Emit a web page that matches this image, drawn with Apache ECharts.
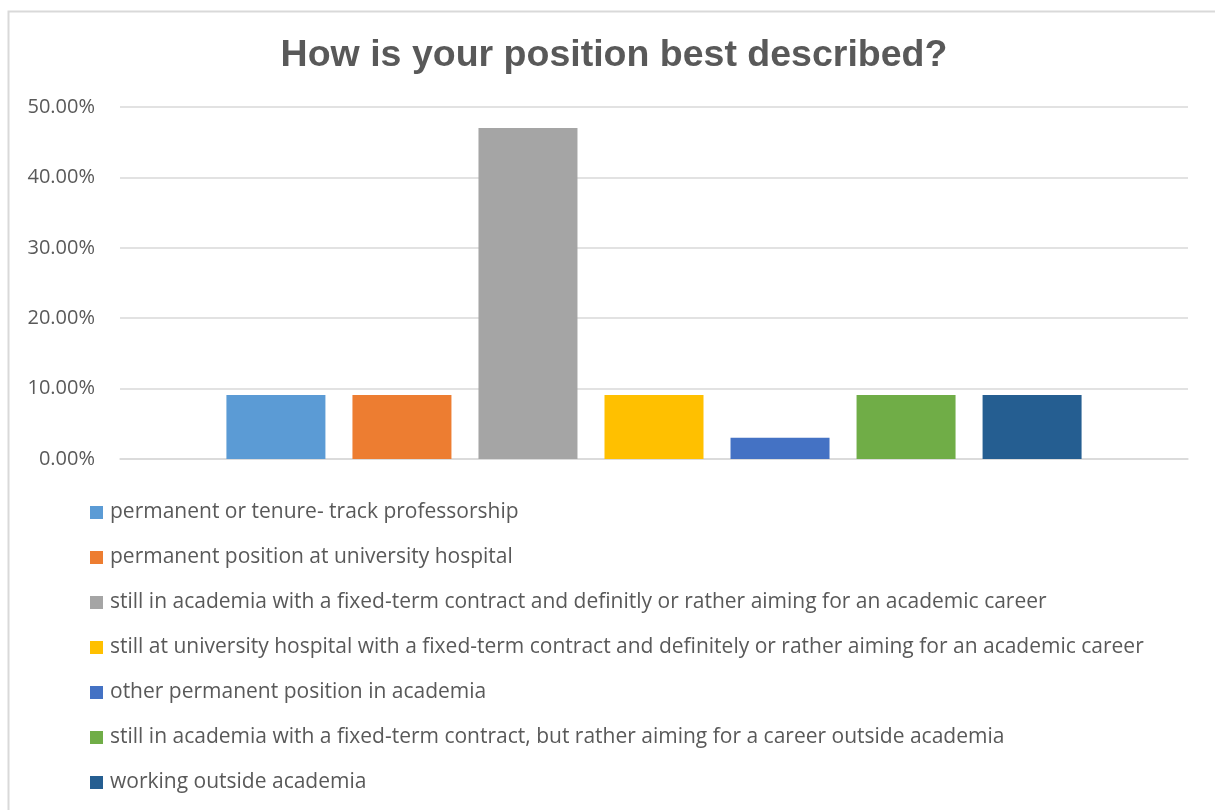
<!DOCTYPE html>
<html>
<head>
<meta charset="utf-8">
<script src="https://cdn.jsdelivr.net/npm/echarts@6/dist/echarts.min.js"></script>
<style>
html,body{margin:0;padding:0;background:#fff;}
#c{width:1215px;height:810px;}
</style>
</head>
<body>
<div id="c"></div>
<script>
const titleText = 'How is your position best described?';
const categories = [''];
const seriesNames = [
  'permanent or tenure- track professorship',
  'permanent position at university hospital',
  'still in academia with a fixed-term contract and definitly or rather aiming for an academic career',
  'still at university hospital with a fixed-term contract and definitely or rather aiming for an academic career',
  'other permanent position in academia',
  'still in academia with a fixed-term contract, but rather aiming for a career outside academia',
  'working outside academia'
];
const seriesValues = [9.09, 9.09, 47.0, 9.09, 3.03, 9.09, 9.09];
const seriesColors = ['#5b9bd5', '#ed7d31', '#a5a5a5', '#ffc000', '#4472c4', '#70ad47', '#255e91'];
const yTicks = [0, 10, 20, 30, 40, 50];

const chart = echarts.init(document.getElementById('c'), null, {renderer: 'canvas'});
const series = seriesNames.map((n, i) => ({
  name: n,
  type: 'bar',
  data: [seriesValues[i]],
  itemStyle: {color: seriesColors[i]},
  barWidth: 99,
  barGap: '27.3%'
}));
chart.setOption({
  animation: false,
  backgroundColor: '#fff',
  graphic: [{
    type: 'rect',
    shape: {x: 8.5, y: 11.5, width: 1400, height: 1000},
    style: {fill: 'none', stroke: '#d9d9d9', lineWidth: 2},
    silent: true, z: -10
  }],
  title: {
    text: titleText,
    left: 609,
    textAlign: 'center',
    top: 32,
    textStyle: {fontFamily: 'Liberation Sans', fontWeight: 'bold', fontSize: 37.5, color: '#595959'}
  },
  grid: {left: 120, right: 27, top: 107, bottom: 351, containLabel: false},
  xAxis: {
    type: 'category',
    data: categories,
    axisLine: {show: true, lineStyle: {color: '#d9d9d9', width: 1.5}},
    axisTick: {show: false},
    axisLabel: {show: false}
  },
  yAxis: {
    type: 'value',
    min: yTicks[0],
    max: yTicks[yTicks.length - 1],
    interval: 10,
    axisLine: {show: false},
    axisTick: {show: false},
    splitLine: {lineStyle: {color: '#d9d9d9', width: 1.5}},
    axisLabel: {
      formatter: v => v.toFixed(2) + '%',
      fontFamily: 'Open Sans',
      fontSize: 20,
      color: '#595959',
      margin: 25
    }
  },
  legend: {
    orient: 'vertical',
    left: 90,
    top: 502,
    padding: 0,
    icon: 'rect',
    itemWidth: 13,
    itemHeight: 13,
    itemGap: 24,
    data: seriesNames,
    textStyle: {fontFamily: 'Open Sans', fontSize: 21, color: '#595959', lineHeight: 21, padding: [0, 0, 0, 2]}
  },
  series: series
});
</script>
</body>
</html>
